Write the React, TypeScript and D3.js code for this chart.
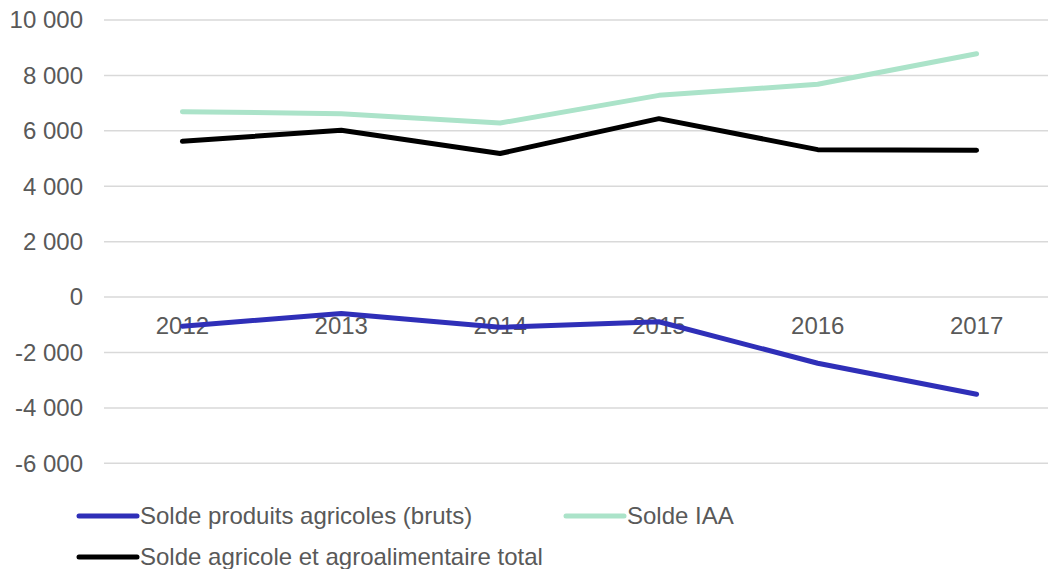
import * as d3 from "d3";

const years = ["2012", "2013", "2014", "2015", "2016", "2017"];
const produitsBruts = [-1050, -590, -1090, -890, -2390, -3510];
const soldeIAA = [6690, 6620, 6280, 7280, 7680, 8780];
const soldeTotal = [5620, 6020, 5180, 6440, 5320, 5300];
const yTicks = [-6000, -4000, -2000, 0, 2000, 4000, 6000, 8000, 10000];

const series = [
  { name: "Solde produits agricoles (bruts)", values: produitsBruts, color: "#2f2fb8" },
  { name: "Solde IAA", values: soldeIAA, color: "#abe3c9" },
  { name: "Solde agricole et agroalimentaire total", values: soldeTotal, color: "#000000" },
];

const W = 1048;
const H = 569;
const FONT = "'Liberation Sans', Arial, sans-serif";
const TEXT = "#595959";

const fr = d3.formatLocale({
  decimal: ",",
  thousands: " ",
  grouping: [3],
  currency: ["", " €"],
  minus: "-",
});
const fmt = fr.format(",d");

export default function App() {
  const x = d3.scalePoint<string>().domain(years).range([103, 1056]).padding(0.5);
  const y = d3.scaleLinear().domain([-6000, 10000]).range([463.3, 20]);

  const line = d3
    .line<number>()
    .x((_, i) => x(years[i]) as number)
    .y((d) => y(d));

  const legend = [
    { s: series[0], lx: 79, ly: 516 },
    { s: series[1], lx: 566, ly: 516 },
    { s: series[2], lx: 79, ly: 557 },
  ];

  return (
    <svg
      width={W}
      height={H}
      style={{ position: "absolute", left: 0, top: 0, background: "#fff" }}
      fontFamily={FONT}
    >
      {yTicks.map((t) => (
        <g key={t}>
          <line x1={104} x2={W} y1={y(t)} y2={y(t)} stroke="#d9d9d9" strokeWidth={1.5} />
          <text x={83} y={y(t)} dy="0.35em" textAnchor="end" fontSize={24} fill={TEXT}>
            {fmt(t)}
          </text>
        </g>
      ))}

      {years.map((yr) => (
        <text key={yr} x={x(yr)} y={334.3} textAnchor="middle" fontSize={24} fill={TEXT}>
          {yr}
        </text>
      ))}

      {series.map((s) => (
        <path
          key={s.name}
          d={line(s.values) ?? ""}
          fill="none"
          stroke={s.color}
          strokeWidth={5}
          strokeLinecap="round"
          strokeLinejoin="round"
        />
      ))}

      {legend.map(({ s, lx, ly }) => (
        <g key={s.name}>
          <line x1={lx} x2={lx + 58} y1={ly} y2={ly} stroke={s.color} strokeWidth={5} strokeLinecap="round" />
          <text x={lx + 61} y={ly} dy="0.35em" fontSize={24} fill={TEXT}>
            {s.name}
          </text>
        </g>
      ))}
    </svg>
  );
}
